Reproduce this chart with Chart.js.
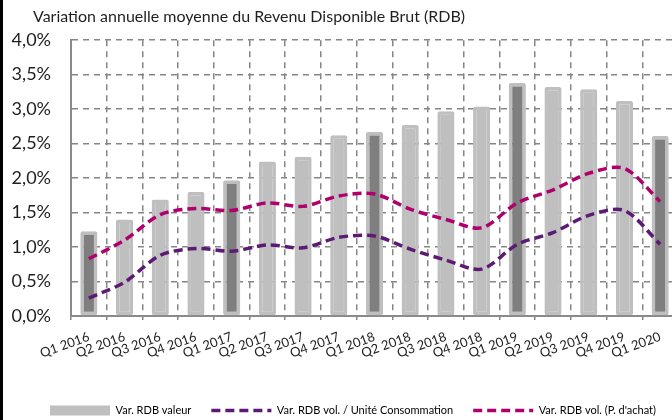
<!DOCTYPE html>
<html>
<head>
<meta charset="utf-8">
<script src="https://cdn.jsdelivr.net/npm/chart.js@4"></script>
<style>
html, body { margin: 0; padding: 0; background: #fff; overflow: hidden; }
#wrap { position: relative; width: 672px; height: 420px; overflow: hidden; }
#chart { position: absolute; left: 0; top: 0; }
#edge { position: absolute; left: 0; top: 0; width: 3px; height: 420px; background: #000; }
</style>
</head>
<body>
<div id="wrap">
  <canvas id="chart" width="680" height="420"></canvas>
  <div id="edge"></div>
</div>
<script>
// Data
var categories = ['Q1 2016', 'Q2 2016', 'Q3 2016', 'Q4 2016', 'Q1 2017', 'Q2 2017', 'Q3 2017', 'Q4 2017',
    'Q1 2018', 'Q2 2018', 'Q3 2018', 'Q4 2018', 'Q1 2019', 'Q2 2019', 'Q3 2019', 'Q4 2019', 'Q1 2020'];
var rdbValeur = [1.23, 1.40, 1.69, 1.80, 1.97, 2.24, 2.31, 2.62, 2.67, 2.77, 2.97, 3.04, 3.38, 3.32, 3.29, 3.12, 2.61];
var rdbVolUC = [0.26, 0.49, 0.88, 0.98, 0.94, 1.03, 0.99, 1.14, 1.16, 0.97, 0.81, 0.68, 1.04, 1.21, 1.46, 1.53, 1.04];
var rdbVolPA = [0.83, 1.10, 1.47, 1.56, 1.53, 1.64, 1.59, 1.74, 1.77, 1.55, 1.40, 1.28, 1.64, 1.83, 2.07, 2.14, 1.66];
var yTickLabels = ['0,0%', '0,5%', '1,0%', '1,5%', '2,0%', '2,5%', '3,0%', '3,5%', '4,0%'];

var lightGrey = '#bfbfbf';
var darkGrey = '#7f7f7f';
var purple = '#5c1a74';
var pink = '#b0006d';
var gridGrey = '#858585';

// Q1 bars are highlighted in dark grey
var barColors = categories.map(function(c) {
    return c.indexOf('Q1') === 0 ? darkGrey : lightGrey;
});

// moves title and legend to where the reference has them
var nudge = {
    id: 'nudge',
    afterLayout: function(chart) {
        var t = chart.titleBlock;
        t.left += 33;
        t.right += 33;
        var l = chart.legend;
        l.left += 14;
        l.right += 14;
        l.top += 6;
        l.bottom += 6;
    }
};

var ctx = document.getElementById('chart').getContext('2d');
new Chart(ctx, {
    type: 'bar',
    data: {
        labels: categories,
        datasets: [{
            type: 'line',
            label: 'Var. RDB vol. / Unité Consommation',
            data: rdbVolUC,
            borderColor: purple,
            borderWidth: 3.5,
            borderDash: [9, 5],
            pointRadius: 0,
            tension: 0.3,
            fill: false,
            order: 0
        }, {
            type: 'line',
            label: "Var. RDB vol. (P. d'achat)",
            data: rdbVolPA,
            borderColor: pink,
            borderWidth: 3.5,
            borderDash: [9, 5],
            pointRadius: 0,
            tension: 0.3,
            fill: false,
            order: 0
        }, {
            label: 'Var. RDB valeur',
            data: rdbValeur,
            backgroundColor: barColors,
            borderColor: lightGrey,
            borderWidth: 3.5,
            borderSkipped: false,
            borderRadius: 2,
            barPercentage: 0.48,
            categoryPercentage: 1,
            order: 1
        }]
    },
    options: {
        responsive: false,
        animation: false,
        layout: { padding: { left: 0, right: 2, top: 0, bottom: 0 } },
        plugins: {
            tooltip: { enabled: false },
            title: {
                display: true,
                text: 'Variation annuelle moyenne du Revenu Disponible Brut (RDB)',
                align: 'start',
                color: '#1f1f1f',
                font: { family: 'Lato', size: 16, weight: 'normal' },
                padding: { top: 7, bottom: 14 }
            },
            legend: {
                position: 'bottom',
                labels: {
                    usePointStyle: true,
                    pointStyleWidth: 60,
                    boxHeight: 10,
                    padding: 20,
                    color: '#1f1f1f',
                    font: { family: 'Lato', size: 11 },
                    generateLabels: function(chart) {
                        return [{
                            text: 'Var. RDB valeur',
                            fillStyle: lightGrey,
                            strokeStyle: lightGrey,
                            lineWidth: 0,
                            pointStyle: 'rect',
                            datasetIndex: 2
                        }, {
                            text: 'Var. RDB vol. / Unité Consommation',
                            fillStyle: purple,
                            strokeStyle: purple,
                            lineWidth: 3.5,
                            lineDash: [9, 5],
                            pointStyle: 'line',
                            datasetIndex: 0
                        }, {
                            text: "Var. RDB vol. (P. d'achat)",
                            fillStyle: pink,
                            strokeStyle: pink,
                            lineWidth: 3.5,
                            lineDash: [9, 5],
                            pointStyle: 'line',
                            datasetIndex: 1
                        }];
                    }
                }
            }
        },
        scales: {
            x: {
                afterFit: function(scale) { scale.height = 63; },
                grid: {
                    offset: true,
                    color: gridGrey,
                    lineWidth: 1.5,
                    drawTicks: true,
                    tickLength: 4,
                    tickColor: gridGrey,
                    tickBorderDash: []
                },
                border: { display: true, color: '#8a8a8a', width: 2, dash: [6, 5] },
                ticks: {
                    autoSkip: false,
                    minRotation: 20,
                    maxRotation: 20,
                    padding: 9,
                    color: '#1f1f1f',
                    font: { family: 'Lato', size: 13 }
                }
            },
            y: {
                min: 0,
                max: 4,
                afterFit: function(scale) { scale.width = 71; },
                grid: {
                    color: gridGrey,
                    lineWidth: 1.5,
                    drawTicks: false
                },
                border: { display: true, color: '#8a8a8a', width: 2, dash: [6, 5] },
                ticks: {
                    stepSize: 0.5,
                    padding: 20,
                    color: '#1f1f1f',
                    font: { family: 'Lato', size: 18 },
                    callback: function(value, index) { return yTickLabels[index]; }
                }
            }
        }
    },
    plugins: [nudge]
});
</script>
</body>
</html>
